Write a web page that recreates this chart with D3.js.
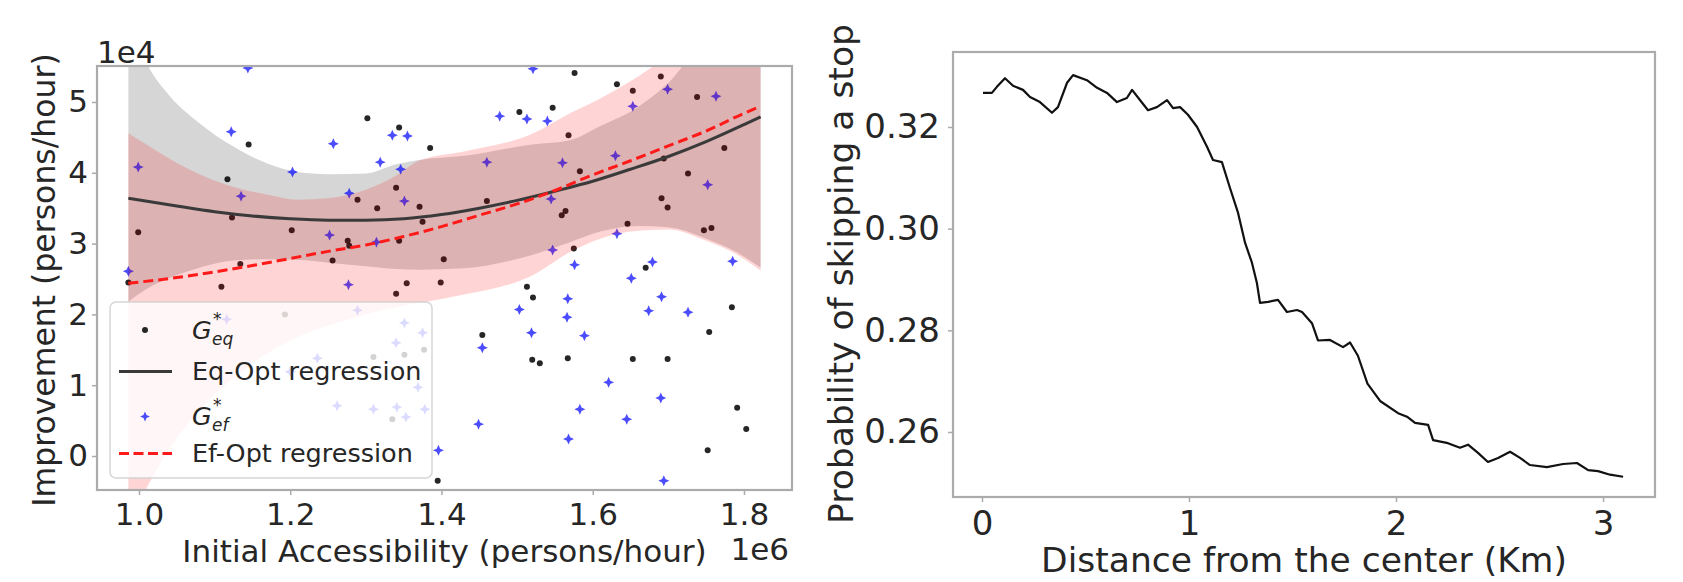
<!DOCTYPE html>
<html>
<head>
<meta charset="utf-8">
<script src="https://cdn.jsdelivr.net/npm/d3@7/dist/d3.min.js"></script>
<style>
body { margin: 0; background: #fff; }
svg text { font-family: "DejaVu Sans", sans-serif; fill: #262626; }
</style>
</head>
<body>
<div id="chart"></div>
<script>
// ---- left panel data (x in 1e6 persons/hour, y in 1e4 persons/hour) ----
// G*eq points
var eqX = [1.302,1.344,1.145,1.117,1.289,1.315,1.340,1.123,1.202,0.999,1.276,1.278,1.344,1.134,1.256,0.986,1.109,1.340,1.354,1.371,1.576,1.632,1.653,1.690,1.738,1.503,1.547,1.385,1.568,1.583,1.460,1.375,1.559,1.564,1.691,1.699,1.726,1.774,1.694,1.646,1.747,1.757,1.403,1.575,1.670,1.399,1.513,1.521,1.784,1.754,1.454,1.520,1.530,1.567,1.653,1.699,1.791,1.803,1.752,1.395,1.193,1.351,1.310,1.335,1.377];
var eqY = [4.77,4.64,4.40,3.91,3.62,3.50,3.79,3.37,3.19,3.16,3.04,2.97,3.04,2.71,2.76,2.45,2.39,2.29,2.44,3.52,5.41,5.25,5.16,5.36,5.07,4.86,4.92,4.35,4.53,4.02,3.60,3.31,3.40,3.46,3.64,3.51,3.99,4.35,4.20,3.28,3.19,3.22,2.78,2.93,2.66,2.45,2.39,2.24,2.10,1.75,1.71,1.36,1.31,1.38,1.37,1.37,0.68,0.38,0.08,-0.35,2.00,1.43,1.40,0.52,1.50];
// G*ef points
var efX = [1.144,1.122,0.999,1.135,1.203,1.257,1.252,1.278,1.319,1.335,1.355,1.346,1.351,1.314,0.986,1.277,1.521,1.477,1.513,1.540,1.460,1.560,1.630,1.653,1.699,1.763,1.545,1.752,1.632,1.547,1.576,1.679,1.785,1.651,1.691,1.567,1.566,1.503,1.674,1.726,1.519,1.589,1.454,1.621,1.690,1.583,1.645,1.449,1.568,1.396,1.694,1.289,1.351,1.340,1.236,1.369,1.262,1.310,1.341,1.353,1.116,1.200,1.375,1.378];
var efY = [5.48,4.58,4.08,3.67,4.01,4.41,3.12,3.71,4.15,4.53,4.52,4.05,3.60,3.02,2.61,2.42,5.47,4.80,4.76,4.73,4.15,4.14,4.24,4.94,5.18,5.08,3.63,3.83,3.14,2.91,2.70,2.74,2.75,2.51,2.25,2.22,1.96,2.07,2.05,2.03,1.74,1.70,1.53,1.04,0.82,0.66,0.52,0.45,0.24,0.08,-0.35,2.06,1.88,1.60,1.38,0.97,0.71,0.66,0.69,0.55,1.93,1.19,1.74,0.66];

// regression curves
var fitX  = [0.986,1.05,1.10,1.15,1.20,1.25,1.30,1.35,1.40,1.45,1.50,1.55,1.60,1.65,1.70,1.75,1.80,1.822];
var eqFit = [3.64,3.53,3.45,3.39,3.35,3.33,3.33,3.35,3.41,3.50,3.61,3.74,3.88,4.05,4.23,4.44,4.68,4.79];
var efFit = [2.44,2.52,2.60,2.69,2.79,2.89,2.98,3.10,3.24,3.40,3.56,3.75,3.97,4.17,4.38,4.59,4.84,4.94];

// confidence bands
var ciX    = [0.986,1.01,1.037,1.08,1.125,1.17,1.21,1.25,1.30,1.34,1.37,1.43,1.52,1.57,1.61,1.66,1.70,1.75,1.79,1.822];
var eqLow  = [2.18,2.36,2.50,2.66,2.76,2.78,2.77,2.73,2.68,2.64,2.63,2.65,2.84,3.02,3.17,3.25,3.23,3.07,2.88,2.66];
var eqHigh = [6.20,5.55,5.13,4.70,4.37,4.13,4.01,3.98,3.99,4.12,4.18,4.24,4.40,4.46,4.66,4.93,5.27,5.90,6.10,6.40];
var efLow  = [-0.90,-0.45,0.05,0.64,1.10,1.45,1.68,1.84,2.00,2.10,2.16,2.28,2.55,2.88,3.07,3.18,3.20,3.04,2.85,2.62];
var efHigh = [4.56,4.40,4.22,3.98,3.80,3.69,3.62,3.64,3.76,3.96,4.17,4.30,4.55,4.84,5.05,5.36,5.65,6.00,6.30,6.60];

var xTicksL = [1.0,1.2,1.4,1.6,1.8];
var yTicksL = [0,1,2,3,4,5];

// ---- right panel data ----
var distKm = [0.005,0.048,0.072,0.111,0.150,0.198,0.232,0.280,0.338,0.367,0.411,0.440,0.507,0.556,0.604,0.652,0.700,0.725,0.763,0.802,0.845,0.894,0.923,0.957,0.995,1.039,1.087,1.116,1.159,1.198,1.237,1.271,1.304,1.328,1.343,1.382,1.430,1.473,1.522,1.546,1.594,1.623,1.681,1.744,1.778,1.816,1.862,1.923,2.010,2.053,2.092,2.155,2.179,2.251,2.309,2.348,2.396,2.444,2.493,2.551,2.599,2.647,2.729,2.807,2.874,2.928,2.976,3.034,3.097];
var probSkip = [0.3267,0.3267,0.3279,0.3296,0.3281,0.3273,0.3259,0.3249,0.3228,0.3239,0.3287,0.3302,0.3292,0.3277,0.3267,0.3249,0.3257,0.3273,0.3253,0.3233,0.3239,0.3253,0.3237,0.3239,0.3224,0.3200,0.3161,0.3135,0.3131,0.3080,0.3031,0.2972,0.2933,0.2893,0.2854,0.2856,0.2860,0.2836,0.2840,0.2836,0.2814,0.2780,0.2781,0.2767,0.2776,0.2750,0.2695,0.2661,0.2637,0.2630,0.2618,0.2614,0.2584,0.2578,0.2569,0.2575,0.2559,0.2541,0.2549,0.2561,0.2549,0.2535,0.2531,0.2537,0.2539,0.2525,0.2523,0.2516,0.2512];
var xTicksR = [0,1,2,3];
var yTicksR = [0.26,0.28,0.30,0.32];

var spineColor = "#ababab";

var svg = d3.select("#chart").append("svg")
    .attr("width", 1683)
    .attr("height", 582);

// ================= left panel =================
var L = {left: 97, right: 792, top: 66, bottom: 490};
var xL = d3.scaleLinear().domain([0.9445, 1.8635]).range([L.left, L.right]);
var yL = d3.scaleLinear().domain([-0.480, 5.508]).range([L.bottom, L.top]);

svg.append("clipPath").attr("id", "clipL")
  .append("rect")
    .attr("x", L.left).attr("y", L.top)
    .attr("width", L.right - L.left).attr("height", L.bottom - L.top);

var plotL = svg.append("g").attr("clip-path", "url(#clipL)");

var starPath = function(s, w) {
  return "M0," + (-s) + "L" + w + "," + (-w) + "L" + s + ",0L" + w + "," + w +
         "L0," + s + "L" + (-w) + "," + w + "L" + (-s) + ",0L" + (-w) + "," + (-w) + "Z";
};

function band(lo, hi) {
  return d3.area()
    .x(function(i) { return xL(ciX[i]); })
    .y0(function(i) { return yL(lo[i]); })
    .y1(function(i) { return yL(hi[i]); })
    .curve(d3.curveMonotoneX)(d3.range(ciX.length));
}
function fitLine(ys) {
  return d3.line()
    .x(function(i) { return xL(fitX[i]); })
    .y(function(i) { return yL(ys[i]); })
    .curve(d3.curveMonotoneX)(d3.range(fitX.length));
}

// eq scatter + band
plotL.append("g").selectAll("circle")
    .data(d3.range(eqX.length))
  .enter().append("circle")
    .attr("cx", function(i) { return xL(eqX[i]); })
    .attr("cy", function(i) { return yL(eqY[i]); })
    .attr("r", 3)
    .attr("fill", "#000")
    .attr("fill-opacity", 0.85);

plotL.append("path")
    .attr("d", band(eqLow, eqHigh))
    .attr("fill", "#000")
    .attr("fill-opacity", 0.16);

// ef scatter + band
plotL.append("g").selectAll("path")
    .data(d3.range(efX.length))
  .enter().append("path")
    .attr("d", starPath(5.5, 1.7))
    .attr("transform", function(i) { return "translate(" + xL(efX[i]) + "," + yL(efY[i]) + ")"; })
    .attr("fill", "#0000ff")
    .attr("fill-opacity", 0.7);

plotL.append("path")
    .attr("d", band(efLow, efHigh))
    .attr("fill", "#ff0000")
    .attr("fill-opacity", 0.17);

// regression lines
plotL.append("path")
    .attr("d", fitLine(eqFit))
    .attr("fill", "none")
    .attr("stroke", "#3a3a3a")
    .attr("stroke-width", 3);

plotL.append("path")
    .attr("d", fitLine(efFit))
    .attr("fill", "none")
    .attr("stroke", "#ff1a1a")
    .attr("stroke-width", 3)
    .attr("stroke-dasharray", "10,5");

// frame
svg.append("rect")
    .attr("x", L.left).attr("y", L.top)
    .attr("width", L.right - L.left).attr("height", L.bottom - L.top)
    .attr("fill", "none")
    .attr("stroke", spineColor)
    .attr("stroke-width", 2.2);

// axes
var gxL = svg.append("g")
    .attr("transform", "translate(0," + L.bottom + ")")
    .call(d3.axisBottom(xL).tickValues(xTicksL).tickFormat(d3.format(".1f")).tickSize(5));
var gyL = svg.append("g")
    .attr("transform", "translate(" + L.left + ",0)")
    .call(d3.axisLeft(yL).tickValues(yTicksL).tickFormat(d3.format("d")).tickSize(5));

[gxL, gyL].forEach(function(g) {
  g.select(".domain").remove();
  g.selectAll("line").attr("stroke", spineColor).attr("stroke-width", 1.5);
  g.selectAll("text").style("font-size", "31px");
});
gxL.selectAll("text").attr("y", 35).attr("dy", null);
gyL.selectAll("text").attr("x", -9);

svg.append("text")
    .attr("x", L.left).attr("y", 63)
    .style("font-size", "31px")
    .text("1e4");
svg.append("text")
    .attr("x", L.right - 3).attr("y", 560)
    .attr("text-anchor", "end")
    .style("font-size", "31px")
    .text("1e6");

svg.append("text")
    .attr("x", (L.left + L.right) / 2).attr("y", 562)
    .attr("text-anchor", "middle")
    .style("font-size", "31px")
    .text("Initial Accessibility (persons/hour)");
svg.append("text")
    .attr("transform", "translate(55," + 280 + ") rotate(-90)")
    .attr("text-anchor", "middle")
    .style("font-size", "31.5px")
    .text("Improvement (persons/hour)");

// legend
var leg = svg.append("g");
leg.append("rect")
    .attr("x", 110).attr("y", 302)
    .attr("width", 322).attr("height", 176)
    .attr("rx", 6)
    .attr("fill", "#fff").attr("fill-opacity", 0.8)
    .attr("stroke", "#cccccc").attr("stroke-opacity", 0.8)
    .attr("stroke-width", 1.5);

leg.append("circle")
    .attr("cx", 145).attr("cy", 330).attr("r", 3)
    .attr("fill", "#000").attr("fill-opacity", 0.85);
leg.append("line")
    .attr("x1", 119).attr("x2", 172).attr("y1", 371.5).attr("y2", 371.5)
    .attr("stroke", "#3a3a3a").attr("stroke-width", 3);
leg.append("path")
    .attr("d", starPath(5, 1.5))
    .attr("transform", "translate(145,416.5)")
    .attr("fill", "#0000ff").attr("fill-opacity", 0.7);
leg.append("line")
    .attr("x1", 119).attr("x2", 172).attr("y1", 453.5).attr("y2", 453.5)
    .attr("stroke", "#ff1a1a").attr("stroke-width", 3)
    .attr("stroke-dasharray", "10,4.5");

// G with superscript * and subscript, kept in one text element
function mathLabel(y, sub) {
  var t = leg.append("text").attr("x", 192).attr("y", y).style("font-size", "25.5px");
  t.append("tspan").style("font-style", "italic").text("G");
  t.append("tspan").style("font-size", "17px")
    .attr("x", 213).attr("y", y - 14).text("*");
  t.append("tspan").style("font-style", "italic").style("font-size", "17px")
    .attr("x", 212).attr("y", y + 6).text(sub);
}
mathLabel(338.5, "eq");
mathLabel(425, "ef");
leg.append("text").attr("x", 192).attr("y", 380)
    .style("font-size", "25.5px").text("Eq-Opt regression");
leg.append("text").attr("x", 192).attr("y", 462)
    .style("font-size", "25.5px").text("Ef-Opt regression");

// ================= right panel =================
var R = {left: 953, right: 1655, top: 52, bottom: 497};
var xR = d3.scaleLinear().domain([-0.140, 3.251]).range([R.left, R.right]);
var yR = d3.scaleLinear().domain([0.24721, 0.33475]).range([R.bottom, R.top]);

svg.append("path")
    .datum(d3.range(distKm.length))
    .attr("d", d3.line()
        .x(function(i) { return xR(distKm[i]); })
        .y(function(i) { return yR(probSkip[i]); }))
    .attr("fill", "none")
    .attr("stroke", "#111")
    .attr("stroke-width", 2.2)
    .attr("stroke-linejoin", "round");

svg.append("rect")
    .attr("x", R.left).attr("y", R.top)
    .attr("width", R.right - R.left).attr("height", R.bottom - R.top)
    .attr("fill", "none")
    .attr("stroke", spineColor)
    .attr("stroke-width", 2.2);

var gxR = svg.append("g")
    .attr("transform", "translate(0," + R.bottom + ")")
    .call(d3.axisBottom(xR).tickValues(xTicksR).tickFormat(d3.format("d")).tickSize(5));
var gyR = svg.append("g")
    .attr("transform", "translate(" + R.left + ",0)")
    .call(d3.axisLeft(yR).tickValues(yTicksR).tickFormat(d3.format(".2f")).tickSize(5));

[gxR, gyR].forEach(function(g) {
  g.select(".domain").remove();
  g.selectAll("line").attr("stroke", spineColor).attr("stroke-width", 1.5);
  g.selectAll("text").style("font-size", "34px");
});
gxR.selectAll("text").attr("y", 38).attr("dy", null);
gyR.selectAll("text").attr("x", -13);

svg.append("text")
    .attr("x", (R.left + R.right) / 2).attr("y", 572)
    .attr("text-anchor", "middle")
    .style("font-size", "34.5px")
    .text("Distance from the center (Km)");
svg.append("text")
    .attr("transform", "translate(853," + 274 + ") rotate(-90)")
    .attr("text-anchor", "middle")
    .style("font-size", "34.5px")
    .text("Probability of skipping a stop");
</script>
</body>
</html>
